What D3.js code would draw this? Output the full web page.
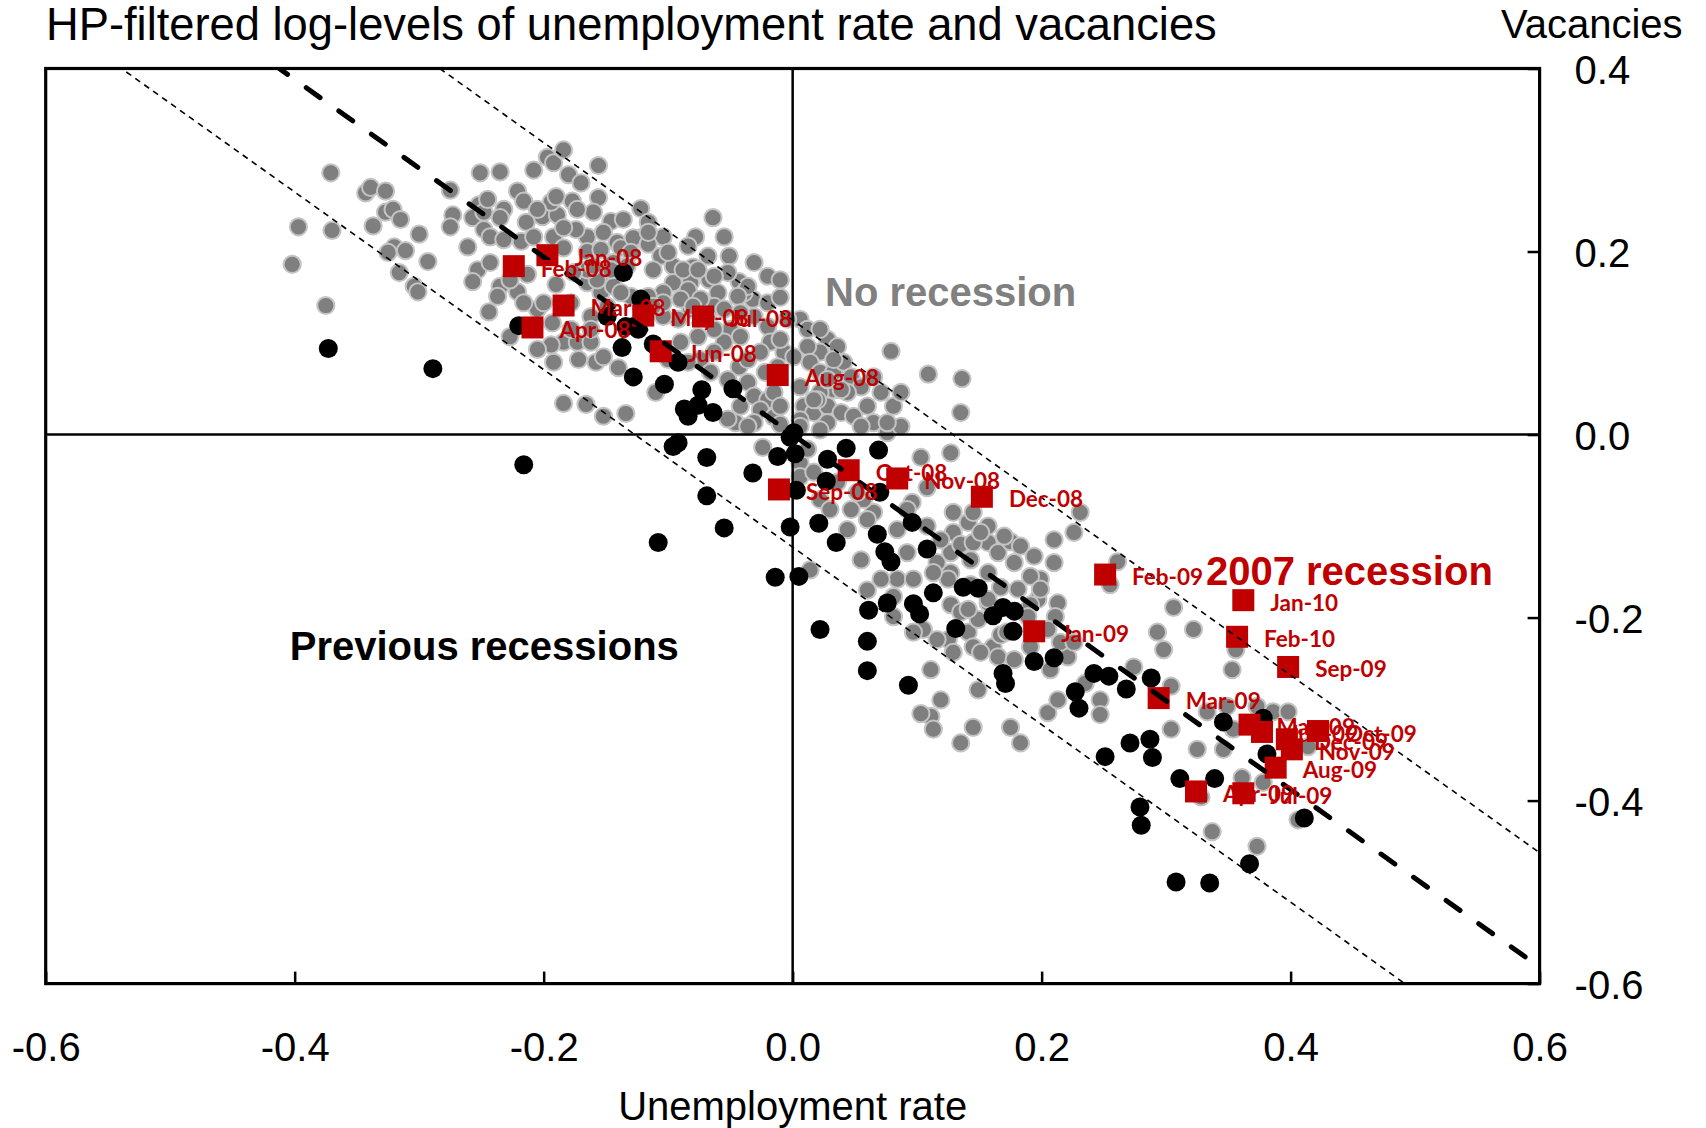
<!DOCTYPE html>
<html><head><meta charset="utf-8">
<script src="https://cdn.jsdelivr.net/npm/d3@7"></script>
<style>body{margin:0;background:#fff;} svg{display:block;}</style>
</head><body><svg id="chart" width="1706" height="1128"></svg>
<script>
// ---------- data ----------
const titleText = "HP-filtered log-levels of unemployment rate and vacancies";
const xAxisTitle = "Unemployment rate";
const yAxisTitle = "Vacancies";
const xTicks = [-0.6, -0.4, -0.2, 0, 0.2, 0.4, 0.6];
const yTicks = [0.4, 0.2, 0, -0.2, -0.4, -0.6];
const fitSlope = -0.97;
const bandIntercepts = [0.125, -0.123];
const centerIntercept = 0;

const months2007 = ["Jan-08","Feb-08","Mar-08","Apr-08","May-08","Jun-08","Jul-08","Aug-08","Sep-08","Oct-08","Nov-08","Dec-08",
  "Jan-09","Feb-09","Mar-09","Apr-09","May-09","Jun-09","Jul-09","Aug-09","Sep-09","Oct-09","Nov-09","Dec-09","Jan-10","Feb-10"];
const unemp2007 = [-0.197,-0.224,-0.184,-0.209,-0.120,-0.106,-0.072,-0.012,-0.011,0.045,0.084,0.152,
  0.194,0.251,0.294,0.324,0.367,0.377,0.362,0.388,0.398,0.422,0.401,0.397,0.362,0.357];
const vac2007 = [0.196,0.184,0.141,0.117,0.130,0.091,0.129,0.065,-0.060,-0.039,-0.048,-0.068,
  -0.215,-0.153,-0.288,-0.390,-0.317,-0.325,-0.392,-0.364,-0.254,-0.324,-0.344,-0.333,-0.181,-0.221];

const previousRecessions = [
 [-0.373,0.094],[-0.289,0.072],[-0.216,-0.033],[-0.220,0.119],[-0.136,0.177],[-0.122,0.148],[-0.149,0.129],[-0.134,0.118],
 [-0.124,0.115],[-0.137,0.095],[-0.128,0.063],[-0.112,0.099],[-0.103,0.055],[-0.092,0.079],[-0.073,0.049],[-0.048,0.050],
 [-0.087,0.028],[-0.084,0.020],[-0.076,0.032],[-0.064,0.024],[-0.096,-0.013],[-0.092,-0.009],[-0.069,-0.025],[-0.032,-0.042],
 [-0.069,-0.067],[-0.055,-0.102],[-0.108,-0.118],[-0.002,-0.003],[0.001,0.002],[-0.012,-0.024],[0.002,-0.021],[0.003,-0.061],
 [-0.002,-0.101],[0.021,-0.097],[-0.014,-0.156],[0.005,-0.155],[0.028,-0.027],[0.027,-0.051],[0.035,-0.118],[0.043,-0.015],
 [0.069,-0.017],[0.070,-0.063],[0.068,-0.109],[0.096,-0.096],[0.074,-0.128],[0.079,-0.139],[0.108,-0.125],[0.022,-0.213],
 [0.060,-0.226],[0.061,-0.192],[0.076,-0.184],[0.097,-0.185],[0.102,-0.196],[0.113,-0.173],[0.131,-0.212],[0.137,-0.167],
 [0.149,-0.168],[0.161,-0.198],[0.169,-0.189],[0.178,-0.193],[0.177,-0.215],[0.194,-0.248],[0.210,-0.244],[0.169,-0.261],
 [0.171,-0.272],[0.242,-0.261],[0.254,-0.264],[0.227,-0.281],[0.230,-0.299],[0.268,-0.278],[0.288,-0.266],[0.271,-0.337],
 [0.287,-0.333],[0.289,-0.353],[0.251,-0.352],[0.346,-0.314],[0.378,-0.310],[0.381,-0.349],[0.311,-0.376],[0.339,-0.376],
 [0.279,-0.407],[0.280,-0.427],[0.308,-0.489],[0.335,-0.490],[0.367,-0.469],[0.411,-0.419],[0.093,-0.274],[0.060,-0.258]
];

const noRecession = [
 [-0.371,0.286],[-0.397,0.227],[-0.370,0.223],[-0.402,0.186],[-0.375,0.141],[-0.343,0.264],[-0.339,0.270],[-0.327,0.266],
 [-0.337,0.228],[-0.327,0.243],[-0.321,0.246],[-0.315,0.235],[-0.300,0.219],[-0.320,0.205],[-0.325,0.199],[-0.311,0.201],
 [-0.293,0.189],[-0.316,0.177],[-0.304,0.162],[-0.301,0.156],[-0.275,0.267],[-0.273,0.240],[-0.275,0.227],[-0.251,0.286],
 [-0.235,0.287],[-0.208,0.289],[-0.197,0.303],[-0.192,0.297],[-0.184,0.311],[-0.180,0.284],[-0.156,0.294],[-0.221,0.266],
 [-0.216,0.255],[-0.252,0.251],[-0.257,0.237],[-0.232,0.246],[-0.235,0.237],[-0.214,0.232],[-0.201,0.238],[-0.189,0.240],
 [-0.194,0.254],[-0.177,0.255],[-0.170,0.275],[-0.156,0.259],[-0.160,0.243],[-0.146,0.233],[-0.261,0.205],[-0.248,0.224],
 [-0.243,0.216],[-0.232,0.213],[-0.218,0.211],[-0.208,0.216],[-0.192,0.216],[-0.184,0.204],[-0.165,0.216],[-0.152,0.221],
 [-0.141,0.210],[-0.253,0.180],[-0.257,0.167],[-0.235,0.162],[-0.221,0.156],[-0.237,0.151],[-0.244,0.134],[-0.213,0.175],
 [-0.190,0.164],[-0.165,0.166],[-0.146,0.166],[-0.154,0.155],[-0.205,0.137],[-0.193,0.122],[-0.184,0.101],[-0.173,0.101],
 [-0.162,0.101],[-0.192,0.079],[-0.172,0.082],[-0.158,0.079],[-0.140,0.073],
 [-0.190,0.260],[-0.122,0.247],[-0.116,0.232],[-0.136,0.235],[-0.064,0.237],[-0.078,0.216],[-0.055,0.216],[-0.104,0.216],
 [-0.122,0.215],[-0.174,0.224],[-0.184,0.226],[-0.248,0.243],[-0.165,0.200],[-0.154,0.202],[-0.138,0.204],[-0.128,0.215],
 [-0.116,0.208],[-0.106,0.195],[-0.096,0.184],[-0.112,0.180],[-0.080,0.183],[-0.067,0.169],[-0.051,0.195],[-0.043,0.167],
 [-0.060,0.155],[-0.082,0.166],[-0.096,0.166],[-0.104,0.155],[-0.032,0.148],[-0.020,0.144],[-0.039,0.155],
 [-0.084,0.158],[-0.082,0.137],[-0.092,0.126],[-0.104,0.129],[-0.063,0.140],[-0.055,0.137],[-0.050,0.115],[-0.055,0.101],
 [-0.042,0.107],[-0.031,0.129],[-0.020,0.118],[-0.010,0.150],[-0.018,0.101],[-0.007,0.090],[0.001,0.085],[-0.012,0.074],
 [-0.022,0.068],[-0.043,0.074],[-0.063,0.090],[-0.074,0.082],[-0.066,0.068],[-0.052,0.060],[-0.036,0.057],[-0.031,0.042],
 [-0.020,0.038],[-0.026,0.027],[-0.015,0.019],[-0.031,0.013],[-0.010,0.011],[0.006,0.126],[0.012,0.115],[0.028,0.104],
 [0.036,0.096],[0.022,0.090],[0.012,0.096],[0.014,0.079],[0.022,0.068],[0.033,0.068],[0.041,0.079],[0.047,0.063],
 [0.055,0.052],[0.044,0.046],[0.033,0.049],[0.022,0.046],[0.006,0.052],[0.009,0.031],[0.017,0.024],[0.028,0.031],
 [0.039,0.024],[0.049,0.020],[0.060,0.031],[0.065,0.013],[0.055,0.009],[0.028,0.013],[0.079,0.091],[0.109,0.066],
 [0.076,0.002],[0.087,0.009],[0.022,0.005],[0.136,0.061],
 [-0.184,0.034],[-0.166,0.033],[-0.152,0.020],[-0.134,0.023],[-0.110,0.046],[-0.046,0.013],[-0.024,-0.014],[0.014,-0.148],
 [0.022,-0.071],[0.020,0.038],[0.006,-0.031],[0.006,-0.046],[-0.194,0.098],
 [0.006,0.016],[0.076,0.013],[0.135,0.024],[0.103,-0.025],[0.127,-0.020],[0.108,-0.058],[0.096,-0.074],[0.065,-0.085],
 [0.057,-0.071],[0.044,-0.104],[0.055,-0.137],[0.084,-0.104],[0.092,-0.129],[0.084,-0.158],[0.097,-0.158],[0.116,-0.140],
 [0.127,-0.129],[0.129,-0.107],[0.141,-0.096],[0.129,-0.085],[0.145,-0.085],[0.157,-0.118],[0.165,-0.129],[0.178,-0.140],
 [0.210,-0.140],[0.213,-0.184],[0.211,-0.199],[0.197,-0.180],[0.127,-0.186],[0.081,-0.177],[0.105,-0.213],[0.125,-0.224],
 [0.141,-0.216],[0.145,-0.232],[0.161,-0.232],[0.129,-0.238],[0.231,-0.085],[0.210,-0.115],[0.226,-0.107],
 [0.135,-0.120],[0.127,-0.151],[0.175,-0.117],[0.143,-0.164],[0.167,-0.167],[0.181,-0.169],[0.157,-0.184],[0.191,-0.186],
 [0.205,-0.213],[0.189,-0.199],[0.149,-0.202],[0.167,-0.219],[0.151,-0.238],[0.165,-0.243],[0.178,-0.246],[0.207,-0.257],
 [0.221,-0.243],[0.261,-0.139],[0.255,-0.164],[0.306,-0.189],[0.322,-0.213],[0.293,-0.216],[0.298,-0.235],[0.356,-0.235],
 [0.274,-0.254],[0.304,-0.275],[0.247,-0.290],[0.205,-0.304],[0.213,-0.290],[0.149,-0.279],[0.119,-0.290],[0.111,-0.308],
 [0.113,-0.322],[0.135,-0.337],[0.145,-0.320],[0.175,-0.320],[0.183,-0.337],[0.247,-0.306],[0.304,-0.322],[0.325,-0.344],
 [0.346,-0.344],[0.349,-0.297],[0.353,-0.257],[0.373,-0.297],[0.386,-0.303],
 [0.111,-0.257],[0.103,-0.305],[0.235,-0.272],[0.361,-0.375],[0.328,-0.396],[0.337,-0.434],[0.373,-0.450],
 [0.333,-0.303],[0.354,-0.322],[0.398,-0.303],[0.414,-0.341],[0.378,-0.380],[0.406,-0.421],
 // denser parts of the cloud
 [-0.116,0.221],[-0.100,0.199],[-0.084,0.206],[-0.068,0.195],[-0.052,0.177],[-0.088,0.180],[-0.076,0.180],[-0.063,0.173],
 [-0.036,0.162],[-0.031,0.188],[-0.020,0.173],[-0.010,0.169],[-0.044,0.151],[-0.074,0.148],[-0.090,0.148],[-0.104,0.144],
 [-0.116,0.151],[-0.130,0.151],[-0.144,0.162],[-0.157,0.169],[-0.165,0.180],[-0.144,0.188],[-0.130,0.199],[-0.068,0.126],
 [-0.076,0.107],[-0.090,0.101],[-0.100,0.082],[-0.084,0.079],[-0.063,0.115],[-0.036,0.082],[-0.026,0.090],[-0.010,0.104],
 [-0.004,0.126],[-0.042,0.031],[-0.052,0.017],[-0.036,0.009],[-0.015,0.046],[-0.010,0.031],
 [0.022,0.115],[0.033,0.082],[0.028,0.060],[0.039,0.049],[0.065,0.063],[0.071,0.046],[0.081,0.031],[0.087,0.046],
 [0.017,0.038],[0.006,0.009],
 [-0.245,0.257],[-0.205,0.246],[-0.173,0.246],[-0.133,0.184],[-0.146,0.180],[-0.160,0.184],[-0.176,0.177],[-0.112,0.140],
 [-0.080,0.140],[-0.042,0.133],[-0.138,0.155],[-0.149,0.140],
 [-0.243,0.188],[-0.227,0.169],[-0.216,0.144],[-0.200,0.144],[-0.178,0.144],[-0.162,0.129],[-0.178,0.115],[-0.162,0.115],
 [-0.152,0.085],[-0.205,0.093],[-0.227,0.107],
 [0.092,-0.082],[0.108,-0.100],[0.119,-0.115],[0.145,-0.118],[0.157,-0.100],[0.170,-0.111],[0.183,-0.122],[0.194,-0.133],
 [0.199,-0.158],[0.125,-0.158],[0.113,-0.151],[0.135,-0.194],[0.157,-0.180],[0.172,-0.216],[0.116,-0.224],[0.097,-0.216],
 [0.081,-0.199],[0.071,-0.158],[0.060,-0.170],
 [0.012,-0.016],[0.017,-0.041],[0.036,-0.052],[0.052,-0.063],[0.047,-0.082],[0.060,-0.093],[0.030,-0.082],
 [0.151,-0.107],[0.143,-0.137],[0.157,-0.151],[0.191,-0.155],[0.199,-0.169],[0.141,-0.191],[0.191,-0.232],[0.215,-0.227],
 [0.226,-0.227]
];

const annotations = [
  {text: "No recession", u: 0.026, v: 0.140, color: "#808080"},
  {text: "Previous recessions", u: -0.404, v: -0.246, color: "#000000"},
  {text: "2007 recession", u: 0.332, v: -0.164, color: "#C00000"}
];

// ---------- layout ----------
const svg = d3.select("#chart");
const W = 1706, H = 1128;
const plot = {left: 45.7, right: 1539.6, top: 68.5, bottom: 983.6};
const x = d3.scaleLinear().domain([-0.6, 0.6]).range([plot.left, plot.right]);
const y = d3.scaleLinear().domain([-0.6, 0.4]).range([plot.bottom, plot.top]);
const FONT = "'Liberation Sans', Arial, sans-serif";
const RED = "#C00000";
const fmt = d => (Math.abs(d) < 1e-9 ? 0 : d).toFixed(1);

svg.append("rect").attr("width", W).attr("height", H).attr("fill", "#fff");

svg.append("defs").append("clipPath").attr("id", "plotclip")
  .append("rect").attr("x", plot.left).attr("y", plot.top)
  .attr("width", plot.right - plot.left).attr("height", plot.bottom - plot.top);

const g = svg.append("g");
const clipped = g.append("g").attr("clip-path", "url(#plotclip)");

// gray points (no recession)
clipped.append("g").selectAll("circle").data(noRecession).join("circle")
  .attr("cx", d => x(d[0])).attr("cy", d => y(d[1])).attr("r", 8.6)
  .attr("fill", "#7f7f7f").attr("stroke", "#c4c4c4").attr("stroke-width", 2);

// black points (previous recessions)
clipped.append("g").selectAll("circle").data(previousRecessions).join("circle")
  .attr("cx", d => x(d[0])).attr("cy", d => y(d[1])).attr("r", 9.5)
  .attr("fill", "#000");

// red squares (2007 recession)
const redData = months2007.map((m, i) => ({m, u: unemp2007[i], v: vac2007[i]}));
clipped.append("g").selectAll("rect").data(redData).join("rect")
  .attr("x", d => x(d.u) - 11).attr("y", d => y(d.v) - 11)
  .attr("width", 22).attr("height", 22).attr("fill", RED);

// zero lines
g.append("line").attr("x1", x(0)).attr("x2", x(0)).attr("y1", plot.top).attr("y2", plot.bottom)
  .attr("stroke", "#000").attr("stroke-width", 2.5);
g.append("line").attr("x1", plot.left).attr("x2", plot.right).attr("y1", y(0)).attr("y2", y(0))
  .attr("stroke", "#000").attr("stroke-width", 2.5);

// fit and band lines
const lineGen = d3.line().x(d => x(d[0])).y(d => y(d[1]));
const linePts = c => [[-0.6, fitSlope * -0.6 + c], [0.6, fitSlope * 0.6 + c]];
bandIntercepts.forEach(c => {
  clipped.append("path").attr("d", lineGen(linePts(c))).attr("fill", "none")
    .attr("stroke", "#000").attr("stroke-width", 1.6).attr("stroke-dasharray", "6,5");
});
clipped.append("path").attr("d", lineGen(linePts(centerIntercept))).attr("fill", "none")
  .attr("stroke", "#000").attr("stroke-width", 5).attr("stroke-linecap", "round")
  .attr("stroke-dasharray", "17,23");

// frame
g.append("rect").attr("x", plot.left).attr("y", plot.top)
  .attr("width", plot.right - plot.left).attr("height", plot.bottom - plot.top)
  .attr("fill", "none").attr("stroke", "#000").attr("stroke-width", 3.2);

// bottom axis
const xAxis = g.append("g").attr("transform", `translate(0,${plot.bottom})`)
  .call(d3.axisBottom(x).tickValues(xTicks).tickFormat(fmt).tickSizeInner(-12).tickSizeOuter(0).tickPadding(49));
xAxis.select(".domain").remove();
xAxis.selectAll(".tick line").attr("stroke", "#000").attr("stroke-width", 2.5);
xAxis.selectAll(".tick text").attr("font-family", FONT).attr("font-size", 40).attr("fill", "#000");

// right axis
const yAxis = g.append("g").attr("transform", `translate(${plot.right},0)`)
  .call(d3.axisRight(y).tickValues(yTicks).tickFormat(fmt).tickSizeInner(-12).tickSizeOuter(0).tickPadding(35));
yAxis.select(".domain").remove();
yAxis.selectAll(".tick line").attr("stroke", "#000").attr("stroke-width", 2.5);
yAxis.selectAll(".tick text").attr("font-family", FONT).attr("font-size", 40).attr("fill", "#000").attr("dy", "0.37em");

// titles
svg.append("text").attr("x", 46).attr("y", 40).attr("font-family", FONT).attr("font-size", 45.3)
  .attr("fill", "#000").text(titleText);
svg.append("text").attr("x", 1501).attr("y", 38).attr("font-family", FONT).attr("font-size", 40)
  .attr("fill", "#000").text(yAxisTitle);
svg.append("text").attr("x", x(0)).attr("y", 1120).attr("text-anchor", "middle")
  .attr("font-family", FONT).attr("font-size", 40).attr("fill", "#000").text(xAxisTitle);

// annotations
svg.append("g").selectAll("text").data(annotations).join("text")
  .attr("x", d => x(d.u)).attr("y", d => y(d.v))
  .attr("font-family", FONT).attr("font-size", 40).attr("font-weight", "bold")
  .attr("fill", d => d.color).text(d => d.text);

// month labels
svg.append("g").selectAll("text").data(redData).join("text")
  .attr("x", d => x(d.u) + 27).attr("y", d => y(d.v) + 10.5)
  .attr("font-family", "Lato, 'Open Sans', sans-serif").attr("font-weight", "bold")
  .attr("font-size", 22.5).attr("fill", RED).text(d => d.m);
</script></body></html>
